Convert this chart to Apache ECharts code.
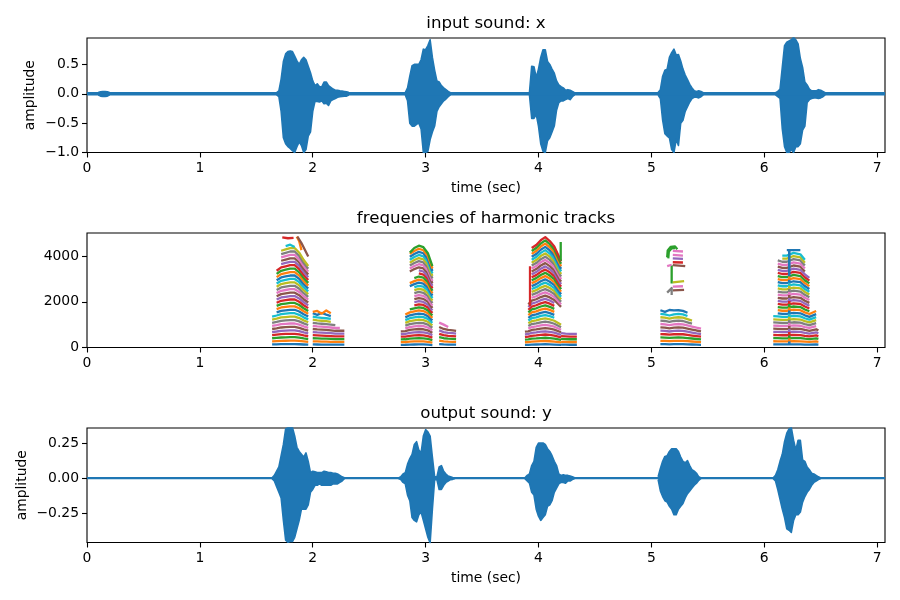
<!DOCTYPE html>
<html><head><meta charset="utf-8">
<script src="https://cdn.jsdelivr.net/npm/echarts@6/dist/echarts.min.js"></script>
<style>html,body{margin:0;padding:0;background:#fff}#c{width:900px;height:600px}</style></head>
<body><div id="c"></div>
<script>
const _ = null;
const timeTicks = [0,1,2,3,4,5,6,7];
const inputTicks = [-1,-0.5,0,0.5];
const freqTicks = [0,2000,4000];
const outputTicks = [-0.25,0,0.25];
const palette = ['#1f77b4','#ff7f0e','#2ca02c','#d62728','#9467bd','#8c564b','#e377c2','#7f7f7f','#bcbd22','#17becf'];

// input sound: envelope, one value every waveStep seconds from each start time
const waveStep = 0.02;
const inQuietStart = 0.10;
const inQuietUp = [.02,.035,.04,.04,.035,.02];
const inQuietLo = [-.02,-.04,-.045,-.045,-.04,-.02];
const inStarts = [1.68,2.82,3.92,5.06,6.10];
const in1Up = [.02,.05,.25,.55,.68,.72,.73,.72,.64,.56,.5,.58,.62,.58,.47,.36,.22,.14,.17,.12,.12,.2,.2,.14,.11,.08,.06,.06,.05,.045,.04,.035,.02];
const in1Lo = [-.02,-.05,-.3,-.75,-.85,-.9,-.93,-.97,-1,-.9,-.82,-.88,-1,-.95,-.72,-.65,-.3,-.13,-.13,-.14,-.12,-.17,-.16,-.2,-.12,-.1,-.08,-.06,-.05,-.045,-.04,-.04,-.02];
const in2Up = [.02,.1,.3,.48,.5,.5,.5,.58,.76,.75,.82,.92,.62,.4,.22,.2,.14,.1,.07,.04,.02];
const in2Lo = [-.02,-.12,-.5,-.55,-.55,-.52,-.5,-.6,-1,-1,-.98,-.78,-.65,-.55,-.3,-.22,-.17,-.12,-.09,-.05,-.02];
const in3Up = [.02,.47,.46,.28,.42,.62,.75,.75,.55,.5,.42,.35,.22,.15,.12,.1,.06,.07,.06,.04,.02];
const in3Lo = [-.02,-.42,-.42,-.35,-.55,-.85,-.98,-1,-.8,-.75,-.65,-.55,-.28,-.15,-.12,-.12,-.1,-.08,-.1,-.05,-.02];
const in4Up = [.02,.07,.3,.4,.42,.62,.7,.76,.66,.67,.56,.42,.32,.24,.16,.1,.05,.04,.05,.04,.02];
const in4Lo = [-.02,-.08,-.45,-.68,-.72,-.75,-.95,-1,-.78,-.88,-.5,-.45,-.3,-.22,-.14,-.08,-.06,-.06,-.07,-.05,-.02];
const in5Up = [.02,.04,.08,.45,.82,.88,.9,.92,.96,.92,.85,.6,.45,.2,.15,.08,.05,.05,.05,.07,.06,.04,.02];
const in5Lo = [-.02,-.05,-.08,-.6,-.9,-1,-1,-.95,-1,-.9,-.9,-.85,-.62,-.55,-.15,-.1,-.08,-.07,-.07,-.08,-.07,-.05,-.02];

// output sound envelope
const outStarts = [1.64,2.76,3.88,5.06,6.08];
const out1Up = [.003,.02,.05,.08,.16,.24,.35,.36,.36,.36,.3,.22,.19,.17,.15,.18,.12,.04,.05,.045,.04,.04,.04,.05,.045,.04,.04,.035,.035,.03,.02,.01,.003];
const out1Lo = [-.003,-.02,-.06,-.1,-.14,-.3,-.44,-.455,-.45,-.45,-.42,-.36,-.3,-.22,-.22,-.22,-.19,-.1,-.08,-.05,-.05,-.04,-.05,-.05,-.05,-.05,-.05,-.04,-.04,-.04,-.03,-.02,-.003];
const out2Up = [.002,.01,.03,.04,.1,.14,.17,.24,.26,.2,.18,.3,.345,.33,.3,.15,.01,.01,.08,.09,.05,.03,.015,.01,.005,.002];
const out2Lo = [-.002,-.01,-.03,-.04,-.12,-.16,-.28,-.3,-.31,-.26,-.24,-.3,-.36,-.42,-.46,-.22,-.01,-.01,-.08,-.08,-.05,-.03,-.02,-.01,-.008,-.002];
const out3Up = [.003,.02,.03,.09,.12,.22,.25,.25,.25,.24,.21,.19,.16,.12,.09,.03,.02,.025,.02,.02,.015,.01,.003];
const out3Lo = [-.003,-.02,-.035,-.1,-.12,-.22,-.27,-.3,-.28,-.26,-.2,-.19,-.16,-.1,-.07,-.04,-.03,-.03,-.035,-.02,-.02,-.01,-.003];
const out4Up = [.01,.07,.12,.155,.16,.19,.21,.21,.21,.19,.15,.12,.11,.125,.09,.06,.05,.035,.01,.002];
const out4Lo = [-.01,-.09,-.13,-.16,-.17,-.2,-.22,-.26,-.26,-.22,-.2,-.18,-.14,-.11,-.09,-.07,-.05,-.035,-.015,-.002];
const out5Up = [.003,.02,.06,.12,.17,.26,.32,.35,.36,.27,.2,.27,.27,.13,.12,.08,.06,.035,.03,.02,.01,.002];
const out5Lo = [-.003,-.02,-.08,-.15,-.22,-.28,-.36,-.37,-.385,-.3,-.26,-.26,-.24,-.17,-.13,-.1,-.08,-.05,-.03,-.02,-.01,-.002];

// harmonic tracks: times and one row of frequencies per harmonic
const t1 = [1.64,1.68,1.72,1.76,1.80,1.84,1.88,1.92,1.96];
const f1 = [
[135,140,146,148,150,150,143,132,123],[270,280,292,296,300,300,286,264,246],[405,420,438,444,450,450,429,396,369],
[540,560,584,592,600,600,572,528,492],[675,700,730,740,750,750,715,660,615],[810,840,876,888,900,900,858,792,738],
[945,980,1022,1036,1050,1050,1001,924,861],[1080,1120,1168,1184,1200,1200,1144,1056,984],[1215,1260,1314,1332,1350,1350,1287,1188,1107],
[1350,1400,1460,1480,1500,1500,1430,1320,1230],[_,1540,1606,1628,1650,1650,1573,1452,1353],[_,1680,1752,1776,1800,1800,1716,1584,1476],
[_,1820,1898,1924,1950,1950,1859,1716,1599],[_,1960,2044,2072,2100,2100,2002,1848,1722],[_,2100,2190,2220,2250,2250,2145,1980,1845],
[_,2240,2336,2368,2400,2400,2288,2112,1968],[_,2380,2482,2516,2550,2550,2431,2244,2091],[_,2520,2628,2664,2700,2700,2574,2376,2214],
[_,2660,2774,2812,2850,2850,2717,2508,2337],[_,2800,2920,2960,3000,3000,2860,2640,2460],[_,2940,3066,3108,3150,3150,3003,2772,2583],
[_,3080,3212,3256,3300,3300,3146,2904,2706],[_,3220,3358,3404,3450,3450,3289,3036,2829],[_,3360,3504,3552,3600,3600,3432,3168,2952],
[_,_,3650,3700,3750,3750,3575,3300,3075],[_,_,3796,3848,3900,3900,3718,3432,3198],[_,_,3942,3996,4050,4050,3861,3564,3321],
[_,_,4088,4144,4200,4200,4004,3696,3444],[_,_,4234,4292,4350,4350,4147,3828,3567],[_,_,_,4440,4500,4400,_,_,_]];
const t1b = [2.00,2.04,2.08,2.12,2.16,2.20,2.24,2.28];
const f1b = [
[135,132,130,128,125,122,122,122],[270,264,260,256,250,244,244,244],[405,396,390,384,375,366,366,366],[540,528,520,512,500,488,488,488],
[675,660,650,640,625,610,610,610],[810,792,780,768,750,732,732,732],[945,924,910,896,875,854,854,_],[1080,1056,1040,1024,1000,976,_,_],
[1215,1188,1170,1152,1125,_,_,_],[1350,1320,1300,1280,1250,_,_,_],[1500,1430,1510,1440,1375,_,_,_],[1560,1600,1480,1620,1500,_,_,_]];
const t2 = [2.78,2.82,2.86,2.90,2.94,2.98,3.02,3.06];
const f2 = [
[118,120,128,132,135,133,125,108],[236,240,256,264,270,266,250,216],[354,360,384,396,405,399,375,324],[472,480,512,528,540,532,500,432],
[590,600,640,660,675,665,625,540],[708,720,768,792,810,798,750,648],[_,840,896,924,945,931,875,756],[_,960,1024,1056,1080,1064,1000,864],
[_,1080,1152,1188,1215,1197,1125,972],[_,1200,1280,1320,1350,1330,1250,1080],[_,1320,1408,1452,1485,1463,1375,1188],[_,1440,1536,1584,1620,1596,1500,1296],
[_,_,1664,1716,1755,1729,1625,1404],[_,_,_,1848,1890,1862,1750,1512],[_,_,_,1980,2025,1995,1875,1620],[_,_,_,2112,2160,2128,2000,1728],
[_,_,_,2244,2295,2261,2125,1836],[_,_,_,2376,2430,2394,2250,1944],[_,_,_,2508,2565,2527,2375,2052],[_,_,_,2640,2700,2660,2500,2160],
[_,_,2688,2772,2835,2793,2625,2268],[_,_,2816,2904,2970,2926,2750,2376],[_,_,_,3036,3105,3059,2875,2484],[_,_,_,_,3240,3192,3000,2592],
[_,_,_,_,3375,3325,3125,2700],[_,_,3328,3432,3510,3458,3250,2808],[_,_,3456,3564,3645,3591,3375,2916],[_,_,3584,3696,3780,3724,3500,3024],
[_,_,3712,3828,3915,3857,3625,3132],[_,_,3840,3960,4050,3990,3750,3240],[_,_,3968,4092,4185,4123,3875,3348],[_,_,4096,4224,4320,4256,4000,3456],
[_,_,4150,4356,4455,4389,4125,3564]];
const t2b = [3.12,3.16,3.20,3.24,3.27];
const f2b = [[150,135,128,125,122],[300,270,256,250,244],[450,405,384,375,366],[600,540,512,500,488],[750,675,640,625,610],[900,810,768,750,732],[1090,1000,900,_,_]];
const t3 = [3.88,3.91,3.94,3.98,4.02,4.06,4.10,4.14,4.20];
const f3 = [
[115,118,128,132,138,142,137,130,111],[230,236,256,264,276,284,274,260,222],[345,354,384,396,414,426,411,390,333],[460,472,512,528,552,568,548,520,444],
[575,590,640,660,690,710,685,650,555],[690,708,768,792,828,852,822,780,666],[_,826,896,924,966,994,959,910,777],[_,944,1024,1056,1104,1136,1096,1040,888],
[_,1062,1152,1188,1242,1278,1233,1170,999],[_,1180,1280,1320,1380,1420,1370,1300,_],[_,1298,1408,1452,1518,1562,1507,1430,_],[_,1416,1536,1584,1656,1704,1644,1560,_],
[_,1534,1664,1716,1794,1846,1781,1690,_],[_,1652,1792,1848,1932,1988,1918,1820,_],[_,1770,1920,1980,2070,2130,2055,1950,_],[_,1888,2048,2112,2208,2272,2192,2080,1776],
[_,_,2176,2244,2346,2414,2329,2210,1887],[_,_,2304,2376,2484,2556,2466,2340,1998],[_,_,2432,2508,2622,2698,2603,2470,2109],[_,_,2560,2640,2760,2840,2740,2600,2220],
[_,_,2688,2772,2898,2982,2877,2730,2331],[_,_,2816,2904,3036,3124,3014,2860,2442],[_,_,2944,3036,3174,3266,3151,2990,2553],[_,_,3072,3168,3312,3408,3288,3120,2664],
[_,_,3200,3300,3450,3550,3425,3250,2775],[_,_,3328,3432,3588,3692,3562,3380,2886],[_,_,3456,3564,3726,3834,3699,3510,2997],[_,_,3584,3696,3864,3976,3836,3640,3108],
[_,_,3712,3828,4002,4118,3973,3770,3219],[_,_,3840,3960,4140,4260,4110,3900,3330],[_,_,3968,4092,4278,4402,4247,4030,3441],[_,_,4096,4224,4416,4544,4384,4160,3552],
[_,_,4224,4356,4554,4686,4521,4290,3663],[_,_,4352,4488,4692,4828,4658,4420,3774]];
const t3b = [4.20,4.24,4.28,4.32,4.34];
const f3b = [[125,122,120,120,120],[250,244,240,240,240],[375,366,360,360,360],[500,488,480,480,480],[625,610,600,600,600]];
const t4 = [5.08,5.12,5.16,5.20,5.24,5.28,5.32,5.36,5.40,5.44];
const f4 = [
[147,145,140,145,147,145,138,131,124,118],[294,290,280,290,294,290,276,262,248,236],[441,435,420,435,441,435,414,393,372,354],[588,580,560,580,588,580,552,524,496,472],
[735,725,700,725,735,725,690,655,620,590],[882,870,840,870,882,870,828,786,744,708],[1029,1015,980,1015,1029,1015,966,917,868,826],[1176,1160,1120,1160,1176,1160,1104,1048,_,_],
[1323,1305,1260,1305,1323,1305,1242,1179,_,_],[1470,1450,1400,1450,1470,1450,1380,_,_,_],[1630,1560,1640,1620,1630,1600,1518,_,_,_]];
const t5 = [6.08,6.12,6.16,6.20,6.26,6.32,6.36,6.40,6.46,6.48];
const f5 = [
[137,136,134,134,138,136,128,122,133,125],[274,272,268,268,276,272,256,244,266,250],[411,408,402,402,414,408,384,366,399,375],[548,544,536,536,552,544,512,488,532,500],
[685,680,670,670,690,680,640,610,665,625],[822,816,804,804,828,816,768,732,798,750],[959,952,938,938,966,952,896,854,931,_],[1096,1088,1072,1072,1104,1088,1024,976,1064,_],
[1233,1224,1206,1206,1242,1224,1152,1098,1197,_],[1370,1360,1340,1340,1380,1360,1280,1220,1330,_],[_,1496,1474,1474,1518,1496,1408,1342,1463,_],[_,1632,1608,1608,1656,1632,1536,1464,1596,_],
[_,1768,1742,1742,1794,1768,1664,1586,_,_],[_,1904,1876,1876,1932,1904,1792,1708,_,_],[_,2040,2010,2010,2070,2040,1920,1830,_,_],[_,2176,2144,2144,2208,2176,2048,1952,_,_],
[_,2312,2278,2278,2346,2312,2176,2074,_,_],[_,2448,2412,2412,2484,2448,2304,2196,_,_],[_,2584,2546,2546,2622,2584,2432,2318,_,_],[_,2720,2680,2680,2760,2720,2560,2440,_,_],
[_,2856,2814,2814,2898,2856,2688,2562,_,_],[_,2992,2948,2948,3036,2992,2816,2684,_,_],[_,3128,3082,3082,3174,3128,2944,2806,_,_],[_,3264,3216,3216,3312,3264,3072,2928,_,_],
[_,3400,3350,3350,3450,3400,3200,3050,_,_],[_,3536,3484,3484,3588,3536,3328,_,_,_],[_,3672,3618,3618,3726,3672,3456,_,_,_],[_,3808,3752,3752,3864,3808,3584,_,_,_],
[_,_,3886,3886,4002,3944,3712,_,_,_],[_,_,4020,4020,4140,4080,3840,_,_,_],[_,_,_,4260,4264,4260,_,_,_,_]];
const trackGroups = [[t1,f1],[t1b,f1b],[t2,f2],[t2b,f2b],[t3,f3],[t3b,f3b],[t4,f4],[t5,f5]];

// short fragments: colour number, then [time, frequency] points
const fragments = [
[3,[[1.73,4820],[1.78,4780],[1.83,4800]]],
[1,[[1.858,4850],[1.88,4650],[1.90,4260]]],
[5,[[1.864,4850],[1.90,4570],[1.96,3980]]],
[3,[[3.925,3550],[3.925,1800]]],
[2,[[4.197,4620],[4.197,3800]]],
[2,[[5.14,3950],[5.145,4250],[5.17,4400],[5.21,4420],[5.23,4300]]],
[2,[[5.15,3900],[5.155,4200],[5.18,4340],[5.21,4350]]],
[2,[[5.18,3600],[5.18,2800]]],
[6,[[5.19,4230],[5.28,4200]]],
[6,[[5.19,4050],[5.28,4020]]],
[4,[[5.19,3900],[5.28,3880]]],
[3,[[5.19,3730],[5.28,3720]]],
[5,[[5.19,3600],[5.30,3560]]],
[6,[[5.14,3560],[5.18,3620]]],
[8,[[5.19,2850],[5.29,2900]]],
[6,[[5.19,2660],[5.28,2680]]],
[5,[[5.19,2500],[5.29,2520]]],
[7,[[5.14,2400],[5.18,2600],[5.18,2300]]]];
// vertical glitch column in the last burst
const columnTime = 6.222;
const columnFreqs = [130,270,405,540,680,815,950,1085,1220,1360,1490,1630,1760,1900,2030,2170,2300,2440,2570,2710,2840,2980,3110,4264];

const FONT = '"DejaVu Sans"';
function env(start, vals){return vals.map((v,i)=>[+(start+i*waveStep).toFixed(3),v]);}
function line(xi,data,color,width){return {type:'line',xAxisIndex:xi,yAxisIndex:xi,data,showSymbol:false,symbol:'none',silent:true,animation:false,
  lineStyle:{color,width:width||2,cap:'butt',join:'round'},emphasis:{disabled:true}};}
function band(xi,data){const s=line(xi,data,palette[0],1.6);s.areaStyle={color:palette[0],opacity:1,origin:'auto'};return s;}

const series = [];
series.push(line(0,[[0,0],[7.07,0]],palette[0],3.6));
[[inQuietStart,inQuietUp,inQuietLo],[inStarts[0],in1Up,in1Lo],[inStarts[1],in2Up,in2Lo],[inStarts[2],in3Up,in3Lo],[inStarts[3],in4Up,in4Lo],[inStarts[4],in5Up,in5Lo]]
 .forEach(([s,u,l])=>{series.push(band(0,env(s,u)),band(0,env(s,l)));});
trackGroups.forEach(([ts,rows])=>rows.forEach((r,k)=>{
  const d=[];r.forEach((v,i)=>{if(v!==null)d.push([ts[i],v]);});
  series.push(line(1,d,palette[k%10],2.3));
}));
fragments.forEach(([c,pts])=>series.push(line(1,pts,palette[c],2.3)));
series.push(line(1,[[columnTime,columnFreqs[columnFreqs.length-2]],[columnTime,columnFreqs[columnFreqs.length-1]]],palette[0],2.6));
for(let i=0;i<columnFreqs.length-2;i++){series.push(line(1,[[columnTime,columnFreqs[i]],[columnTime,columnFreqs[i+1]]],palette[i%10],2.6));}
series.push(line(2,[[0,0],[7.07,0]],palette[0],2.2));
[[outStarts[0],out1Up,out1Lo],[outStarts[1],out2Up,out2Lo],[outStarts[2],out3Up,out3Lo],[outStarts[3],out4Up,out4Lo],[outStarts[4],out5Up,out5Lo]]
 .forEach(([s,u,l])=>{series.push(band(2,env(s,u)),band(2,env(s,l)));});

const tops=[38,233,428], H=114.5;
const grid=tops.map(t=>({left:87,width:798,top:t,height:H,show:true,borderColor:'#000',borderWidth:1.1,backgroundColor:'transparent',containLabel:false}));
const labelStyle={color:'#000',fontFamily:FONT,fontSize:13.9};
function xAx(i,name){return {type:'value',gridIndex:i,position:'bottom',min:0,max:7.07,
  axisLine:{show:false,onZero:false},splitLine:{show:false},
  axisTick:{show:true,length:5,lineStyle:{color:'#000',width:1.1},customValues:timeTicks},
  axisLabel:{...labelStyle,margin:9,customValues:timeTicks,formatter:v=>String(v)},
  name:name||'',nameLocation:'middle',nameGap:29,nameMoveOverlap:false,nameTextStyle:labelStyle};}
function yAx(i,min,max,ticks,fmt,name,gap){return {type:'value',gridIndex:i,position:'left',min,max,
  axisLine:{show:false,onZero:false},splitLine:{show:false},
  axisTick:{show:true,length:5,lineStyle:{color:'#000',width:1.1},customValues:ticks},
  axisLabel:{...labelStyle,margin:8,padding:[2,0,0,0],customValues:ticks,formatter:fmt},
  name:name||'',nameLocation:'middle',nameGap:gap||0,nameMoveOverlap:false,nameRotate:90,nameTextStyle:labelStyle};}
const minus=s=>s.replace('-','\u2212');
const option={animation:false,backgroundColor:'#fff',
 title:[['input sound: x',24],['frequencies of harmonic tracks',219],['output sound: y',414]].map(([text,y])=>({text,left:486,top:y,textAlign:'center',textVerticalAlign:'middle',padding:0,
   textStyle:{color:'#000',fontFamily:FONT,fontSize:16.67,fontWeight:'normal'}})),
 grid,
 xAxis:[xAx(0,'time (sec)'),xAx(1),xAx(2,'time (sec)')],
 yAxis:[yAx(0,-1,0.95,inputTicks,v=>minus(v.toFixed(1)),'amplitude',50),
        yAx(1,0,5010,freqTicks,v=>String(v)),
        yAx(2,-0.457,0.357,outputTicks,v=>minus(v.toFixed(2)),'amplitude',58)],
 series};
echarts.init(document.getElementById('c'),null,{renderer:'canvas'}).setOption(option);
</script></body></html>
